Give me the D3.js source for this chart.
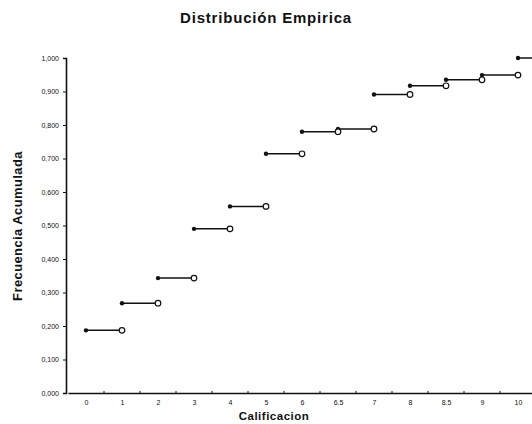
<!DOCTYPE html>
<html>
<head>
<meta charset="utf-8">
<script src="https://cdn.jsdelivr.net/npm/d3@7"></script>
<style>
  html, body { margin: 0; padding: 0; background: #fff; }
  svg { display: block; }
</style>
</head>
<body>
<svg id="chart" width="532" height="424"></svg>
<script>
// ---- data ----
const categories = ["0", "1", "2", "3", "4", "5", "6", "6.5", "7", "8", "8.5", "9", "10"];
const cumFreq = [0.187, 0.268, 0.343, 0.490, 0.557, 0.714, 0.780, 0.788, 0.891, 0.917, 0.935, 0.949, 1.000];
const yTicks = [0, 0.1, 0.2, 0.3, 0.4, 0.5, 0.6, 0.7, 0.8, 0.9, 1.0];

const chartTitle = "Distribución Empirica";
const xTitle = "Calificacion";
const yTitle = "Frecuencia Acumulada";

(function () {
  // ---- layout ----
  const svg = d3.select("#chart");
  const mLeft = 66, mTop = 58, mBottom = 393;

  const x = d3.scaleLinear().domain([-0.5, categories.length - 0.5]).range([68, 536]);
  const y = d3.scaleLinear().domain([0, 1]).range([mBottom, mTop]);

  const ink = "#111";
  const font = "Liberation Sans, Arial, sans-serif";

  // title
  svg.append("text")
    .attr("x", 266).attr("y", 23)
    .attr("text-anchor", "middle")
    .attr("font-family", font)
    .attr("font-weight", "bold").attr("font-size", 15)
    .attr("letter-spacing", 0.8)
    .attr("fill", ink)
    .text(chartTitle);

  // y axis
  const yAxis = d3.axisLeft(y)
    .tickValues(yTicks)
    .tickSize(3)
    .tickPadding(4)
    .tickFormat(d => d3.format(".3f")(d).replace(".", ","));
  const gy = svg.append("g").attr("transform", `translate(${mLeft},0)`).call(yAxis);
  gy.select(".domain").attr("stroke", ink).attr("stroke-width", 1.6);
  gy.selectAll(".tick line").attr("stroke", ink);
  gy.selectAll(".tick text")
    .attr("font-family", font)
    .attr("font-size", 7).attr("fill", ink);

  // x axis
  const xAxis = d3.axisBottom(x)
    .tickValues(d3.range(categories.length))
    .tickSize(0)
    .tickPadding(7)
    .tickFormat(i => categories[i]);
  const gx = svg.append("g").attr("transform", `translate(0,${mBottom})`).call(xAxis);
  gx.select(".domain").attr("stroke", ink).attr("stroke-width", 1.4);
  gx.selectAll(".tick text")
    .attr("font-family", font)
    .attr("font-size", 7).attr("fill", ink);
  gx.selectAll(".btick")
    .data(d3.range(categories.length))
    .join("line")
    .attr("class", "btick")
    .attr("x1", i => x(i + 0.5)).attr("x2", i => x(i + 0.5))
    .attr("y1", -2).attr("y2", 0)
    .attr("stroke", ink);

  // axis titles
  svg.append("text")
    .attr("x", 274).attr("y", 420)
    .attr("text-anchor", "middle")
    .attr("font-family", font)
    .attr("font-weight", "bold").attr("font-size", 11.5)
    .attr("letter-spacing", 0.5)
    .attr("fill", ink)
    .text(xTitle);

  svg.append("text")
    .attr("transform", "translate(22,226) rotate(-90)")
    .attr("text-anchor", "middle")
    .attr("font-family", font)
    .attr("font-weight", "bold").attr("font-size", 13)
    .attr("letter-spacing", 0.4)
    .attr("fill", ink)
    .text(yTitle);

  // step segments
  const steps = cumFreq.map((v, i) => ({ i, v }));
  const g = svg.append("g");
  g.selectAll(".seg").data(steps).join("line")
    .attr("class", "seg")
    .attr("x1", d => x(d.i)).attr("x2", d => x(d.i + 1))
    .attr("y1", d => y(d.v)).attr("y2", d => y(d.v))
    .attr("stroke", ink).attr("stroke-width", 1.5);

  g.selectAll(".closed").data(steps).join("circle")
    .attr("class", "closed")
    .attr("cx", d => x(d.i)).attr("cy", d => y(d.v))
    .attr("r", 2.2).attr("fill", ink);

  g.selectAll(".open").data(steps).join("circle")
    .attr("class", "open")
    .attr("cx", d => x(d.i + 1)).attr("cy", d => y(d.v))
    .attr("r", 2.8).attr("fill", "#fff")
    .attr("stroke", ink).attr("stroke-width", 1.2);
})();
</script>
</body>
</html>
